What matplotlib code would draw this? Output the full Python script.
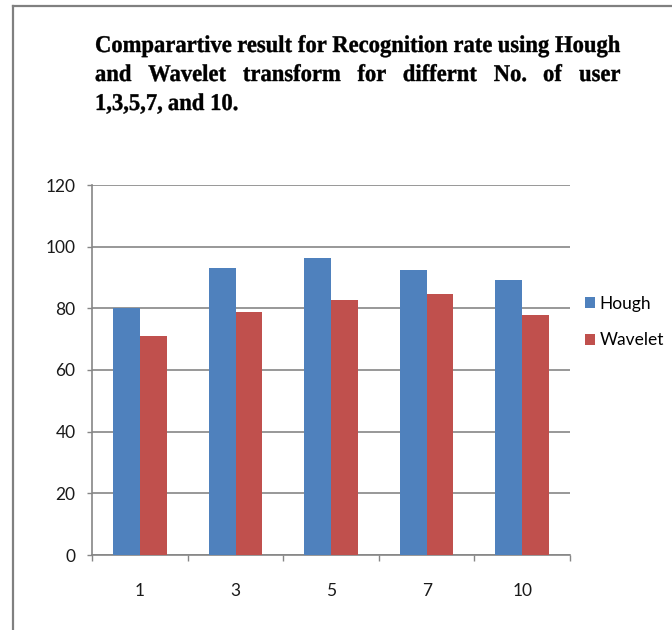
import matplotlib
matplotlib.use("Agg")
import matplotlib.pyplot as plt
from matplotlib.textpath import TextPath
from matplotlib.patches import PathPatch
from matplotlib.font_manager import FontProperties
from matplotlib.transforms import Affine2D, IdentityTransform
from matplotlib.lines import Line2D
import numpy as np

# Data
users = ["1", "3", "5", "7", "10"]
hough = [80, 93, 96.3, 92.3, 89.2]
wavelet = [71, 78.7, 82.7, 84.7, 77.7]
series_names = ["Hough", "Wavelet"]
y_ticks = [0, 20, 40, 60, 80, 100, 120]

title_lines = [
    "Comparartive result for Recognition rate using Hough",
    "and Wavelet transform for differnt No. of user",
    "1,3,5,7, and 10.",
]

W, H, DPI = 672, 630, 100
fig = plt.figure(figsize=(W / DPI, H / DPI), dpi=DPI)
fig.patch.set_facecolor("white")

label_font = ["Lato", "DejaVu Sans"]
fs = 12.5

ax = fig.add_axes([92.3 / W, 75 / H, (570 - 92.3) / W, (555 - 185) / H])
x = np.arange(len(users))
bw = 0.28
blue, red = "#4F81BD", "#C0504D"
b1 = ax.bar(x - bw / 2, hough, bw, color=blue, zorder=3, label=series_names[0])
b2 = ax.bar(x + bw / 2, wavelet, bw, color=red, zorder=3, label=series_names[1])

ax.set_xlim(-0.5, len(users) - 0.5)
ax.set_ylim(0, 120)
ax.set_yticks(y_ticks)
ax.set_yticklabels([str(v) for v in y_ticks], family=label_font, fontsize=fs, color="#1a1a1a")
ax.set_xticks(x)
ax.set_xticklabels(users, family=label_font, fontsize=fs, color="#1a1a1a")
ax.set_xticks(np.arange(-0.5, len(users), 1.0), minor=True)

grid_c = "#868686"
ax.yaxis.grid(True, color=grid_c, linewidth=1.2, zorder=0)
ax.set_axisbelow(True)
for s in ["top", "right"]:
    ax.spines[s].set_visible(False)
for s in ["left", "bottom"]:
    ax.spines[s].set_color(grid_c)
    ax.spines[s].set_linewidth(1.2)
ax.tick_params(axis="y", direction="out", length=3.6, width=1.0, color=grid_c, pad=8.5)
ax.tick_params(axis="x", which="major", length=0, pad=20)
ax.tick_params(axis="x", which="minor", direction="out", length=4.5, width=1.0, color=grid_c)

# Legend
fig.legend(handles=[b1, b2], labels=series_names, loc="center left",
           bbox_to_anchor=(585 / W, 1 - 322 / H), frameon=False,
           prop=FontProperties(family=label_font, size=fs),
           handlelength=0.6, handleheight=0.6, handletextpad=0.25,
           labelspacing=1.2, borderpad=0, borderaxespad=0)

# Title: bold serif, horizontally condensed, justified lines
fp = FontProperties(family="Liberation Serif", weight="bold")
em = 24.0
left_px, right_px = 95.0, 620.0
baselines = [52, 81, 110]

def word_paths(line):
    words = line.split(" ")
    paths = [TextPath((0, 0), w, size=em, prop=fp) for w in words]
    return words, paths

def width_of(p):
    v = p.vertices
    return v[:, 0].max() if len(v) else 0.0

space_w = TextPath((0, 0), "a a", size=em, prop=fp).vertices[:, 0].max() - \
          2 * TextPath((0, 0), "a", size=em, prop=fp).vertices[:, 0].max()
_, p0 = word_paths(title_lines[0])
natural0 = sum(width_of(p) for p in p0) + space_w * (len(p0) - 1)
sx = (right_px - left_px) / natural0

for i, line in enumerate(title_lines):
    words, paths = word_paths(line)
    widths = [width_of(p) * sx for p in paths]
    if i < len(title_lines) - 1 and len(paths) > 1:
        gap = (right_px - left_px - sum(widths)) / (len(paths) - 1)
    else:
        gap = space_w * sx
    xpos = left_px
    ypos = H - baselines[i]
    for p, wdt in zip(paths, widths):
        tr = Affine2D().scale(sx, 1.0).translate(xpos, ypos)
        patch = PathPatch(tr.transform_path(p), facecolor="black", edgecolor="black",
                          linewidth=0.3, transform=IdentityTransform())
        fig.add_artist(patch)
        xpos += wdt + gap

# Frame lines at top and left
frame_c = "#808080"
fig.add_artist(Line2D([13 / W, 13 / W], [0, 1 - 6 / H], color=frame_c, linewidth=1.6,
                      transform=fig.transFigure))
fig.add_artist(Line2D([13 / W, 1], [1 - 6 / H, 1 - 6 / H], color=frame_c, linewidth=1.6,
                      transform=fig.transFigure))

fig.savefig("out.png", dpi=DPI, facecolor="white")
